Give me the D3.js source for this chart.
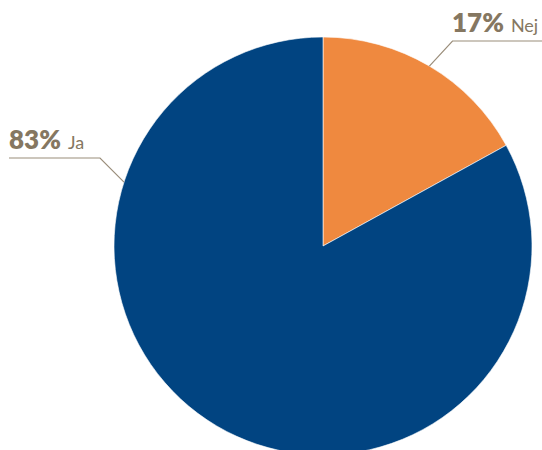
<!DOCTYPE html>
<html>
<head>
<meta charset="utf-8">
<script src="https://cdn.jsdelivr.net/npm/d3@7"></script>
<style>
  html, body { margin: 0; padding: 0; background: #ffffff; }
  svg { display: block; }
</style>
</head>
<body>
<svg id="chart" width="542" height="450"></svg>
<script>
// Survey answers
const categories = ["Nej", "Ja"];
const values = [17, 83];
const colors = ["#ef893f", "#014481"];
// Angle (degrees, clockwise from 12 o'clock) where each leader line touches the pie
const leaderAngles = [30.6, 287.8];

const width = 542, height = 450;
const cx = 323, cy = 246, radius = 209;

const svg = d3.select("#chart");
const g = svg.append("g").attr("transform", `translate(${cx},${cy})`);

const pie = d3.pie().sort(null).value(d => d.value);
const arc = d3.arc().innerRadius(0).outerRadius(radius);

const data = categories.map((c, i) => ({ name: c, value: values[i], color: colors[i], leader: leaderAngles[i] }));
const arcs = pie(data);

g.selectAll("path.slice")
  .data(arcs)
  .join("path")
  .attr("class", "slice")
  .attr("d", arc)
  .attr("fill", d => d.data.color)
  .attr("stroke", "#ffffff")
  .attr("stroke-width", 0.6);

const labelColor = "#857761";
const lineColor = "#9a8d7a";

// Leader line + label layout: elbow point and text side for each slice
const layout = {
  "Nej": { elbow: [452.5, 41], end: [542, 41], textX: 452, baseline: 32 },
  "Ja":  { elbow: [100, 158], end: [9, 158], textX: 9, baseline: 149 }
};

const labelLayer = svg.append("g");
arcs.forEach(a => {
  const L = layout[a.data.name];
  const ang = a.data.leader * Math.PI / 180;
  const px = cx + radius * Math.sin(ang);
  const py = cy - radius * Math.cos(ang);
  labelLayer.append("polyline")
    .attr("points", [[px, py], L.elbow, L.end].map(p => p.join(",")).join(" "))
    .attr("fill", "none")
    .attr("stroke", lineColor)
    .attr("stroke-width", 1.2);
  const t = labelLayer.append("text")
    .attr("x", L.textX)
    .attr("y", L.baseline)
    .attr("fill", labelColor)
    .attr("font-family", "Lato, 'Open Sans', sans-serif");
  t.append("tspan")
    .attr("font-size", 26)
    .attr("font-weight", 800)
    .text(a.data.value + "%");
  t.append("tspan")
    .attr("dx", 7)
    .attr("font-size", 18)
    .attr("font-weight", 400)
    .text(a.data.name);
});
</script>
</body>
</html>
